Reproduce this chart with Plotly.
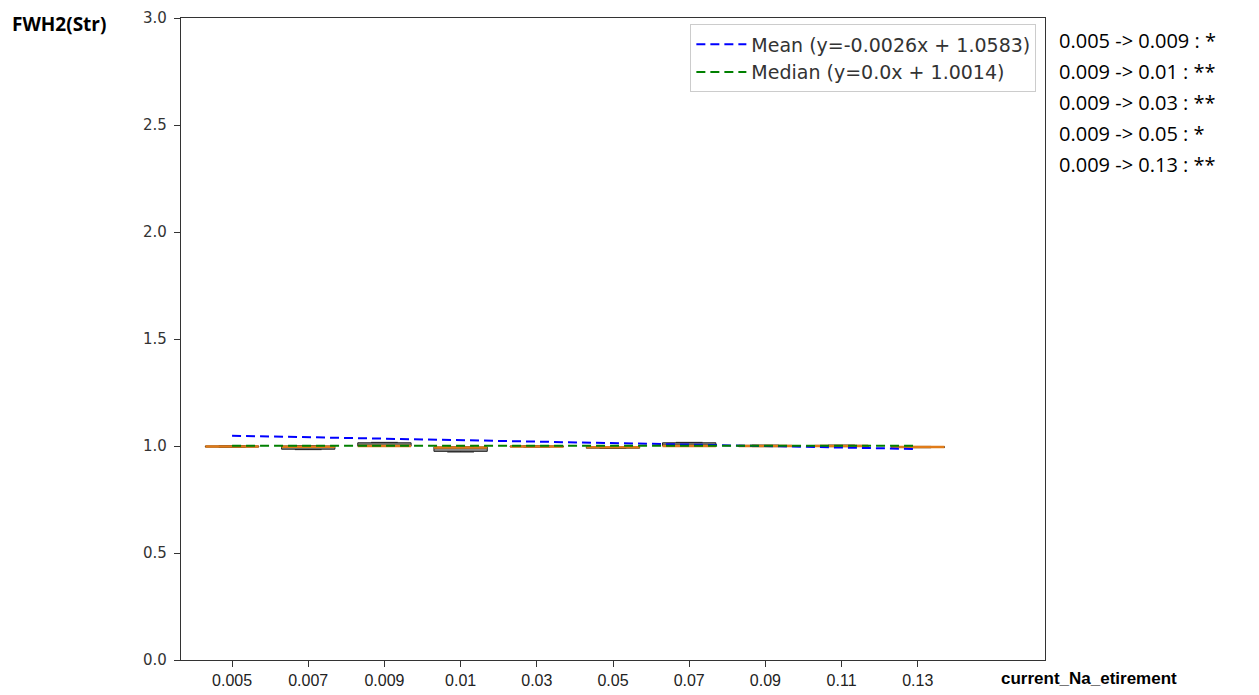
import plotly.graph_objects as go

categories = ["0.005", "0.007", "0.009", "0.01", "0.03", "0.05", "0.07", "0.09", "0.11", "0.13"]
positions = [1, 2, 3, 4, 5, 6, 7, 8, 9, 10]
q1 = [0.995, 0.985, 0.999, 0.975, 0.996, 0.990, 1.000, 0.998, 0.998, 0.993]
median = [0.998, 0.997, 1.000, 0.993, 0.998, 0.994, 1.000, 1.000, 1.000, 0.995]
q3 = [1.000, 1.000, 1.015, 0.995, 1.000, 0.996, 1.015, 1.003, 1.003, 0.997]
lower = [0.994, 0.983, 0.998, 0.972, 0.995, 0.989, 0.999, 0.997, 0.997, 0.992]
upper = [1.001, 1.001, 1.017, 0.996, 1.001, 0.997, 1.017, 1.004, 1.004, 0.998]

mean_line_x = [1, 10]
mean_line_y = [1.048, 0.986]
median_line_x = [1, 10]
median_line_y = [1.0014, 1.0014]

significance = ["0.005 -> 0.009 : *", "0.009 -> 0.01 : **", "0.009 -> 0.03 : **",
                "0.009 -> 0.05 : *", "0.009 -> 0.13 : **"]

box_w = 0.7
fig = go.Figure()
for p, a, m, b, lo, hi in zip(positions, q1, median, q3, lower, upper):
    fig.add_trace(go.Box(x=[p], q1=[a], median=[m], q3=[b], lowerfence=[lo], upperfence=[hi],
                         width=box_w, line=dict(color="#222222", width=1),
                         fillcolor="rgba(60,60,60,0.6)", showlegend=False, hoverinfo="skip",
                         whiskerwidth=0.5))
mx, my = [], []
for p, m in zip(positions, median):
    mx += [p - box_w / 2, p + box_w / 2, None]
    my += [m, m, None]
fig.add_trace(go.Scatter(x=mx, y=my, mode="lines", line=dict(color="#e07b18", width=2.5),
                         showlegend=False, hoverinfo="skip"))

fig.add_trace(go.Scatter(x=mean_line_x, y=mean_line_y, mode="lines",
                         line=dict(color="blue", width=2, dash="9px,5px"),
                         name="Mean (y=-0.0026x + 1.0583)"))
fig.add_trace(go.Scatter(x=median_line_x, y=median_line_y, mode="lines",
                         line=dict(color="green", width=2, dash="9px,5px"),
                         name="Median (y=0.0x + 1.0014)"))

fig.update_layout(
    width=1251, height=687,
    margin=dict(l=173, r=214, t=10, b=35, autoexpand=False),
    paper_bgcolor="white", plot_bgcolor="white",
    font=dict(family="DejaVu Sans", size=13, color="#333333"),
    legend=dict(x=0.99, y=0.99, xanchor="right", yanchor="top",
                bgcolor="white", bordercolor="#cccccc", borderwidth=1,
                font=dict(family="DejaVu Sans", size=19, color="#333333"),
                itemwidth=50),
    showlegend=True,
)
fig.update_xaxes(range=[0.33, 11.67], tickmode="array", tickvals=positions, ticktext=categories,
                 showgrid=False, zeroline=False, showline=True, linecolor="#333333", linewidth=1.2,
                 mirror=True, ticks="outside", ticklen=6, tickcolor="#333333",
                 tickfont=dict(family="Liberation Sans Narrow, Liberation Sans", size=16, color="#222222"))
fig.update_yaxes(range=[0, 3], tickmode="array", tickvals=[0, 0.5, 1, 1.5, 2, 2.5, 3],
                 ticktext=["0.0", "0.5", "1.0", "1.5", "2.0", "2.5", "3.0"],
                 showgrid=False, zeroline=False, showline=True, linecolor="#333333", linewidth=1.2,
                 mirror=True, ticks="outside", ticklen=6, tickcolor="#333333", ticklabelstandoff=4,
                 tickfont=dict(family="DejaVu Sans", size=15, color="#333333"))

fig.add_annotation(text="<b>FWH2(Str)</b>", xref="paper", yref="paper", x=-0.198, y=1.0,
                   xanchor="left", yanchor="top", showarrow=False,
                   font=dict(family="Open Sans", size=19, color="black"), yshift=9)
fig.add_annotation(text="<b>current_Na_etirement</b>", xref="paper", yref="paper", x=1.051, y=0,
                   xanchor="center", yanchor="top", showarrow=False, yshift=-7,
                   font=dict(family="Liberation Sans Narrow, Liberation Sans", size=17, color="black"))
for i, t in enumerate(significance):
    fig.add_annotation(text=t, xref="paper", yref="paper", x=1.0, y=1.0,
                       xanchor="left", yanchor="middle", showarrow=False,
                       xshift=12, yshift=-(22 + i * 31),
                       font=dict(family="Open Sans", size=20, color="black"))

fig.write_html("out.html")
